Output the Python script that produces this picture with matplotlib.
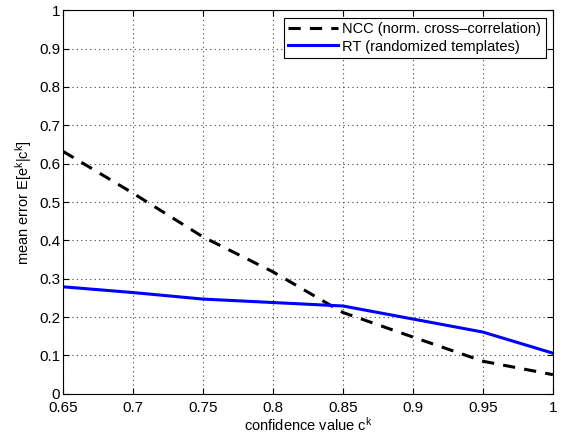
import matplotlib.pyplot as plt

plt.rcParams['font.family'] = ['Liberation Sans', 'DejaVu Sans']
plt.rcParams['mathtext.default'] = 'regular'

# data
conf = [0.65, 0.70, 0.75, 0.80, 0.85, 0.90, 0.95, 1.00]
ncc = [0.632, 0.523, 0.409, 0.318, 0.212, 0.148, 0.085, 0.050]
rt = [0.279, 0.264, 0.247, 0.238, 0.229, 0.195, 0.161, 0.106]

xticks = [0.65, 0.7, 0.75, 0.8, 0.85, 0.9, 0.95, 1]
xticklabels = ['0.65', '0.7', '0.75', '0.8', '0.85', '0.9', '0.95', '1']
yticks = [0, 0.1, 0.2, 0.3, 0.4, 0.5, 0.6, 0.7, 0.8, 0.9, 1]
yticklabels = ['0', '0.1', '0.2', '0.3', '0.4', '0.5', '0.6', '0.7', '0.8', '0.9', '1']

fig = plt.figure(figsize=(5.63, 4.44), dpi=100)
ax = fig.add_axes([0.112, 0.113, 0.870, 0.864])

ax.plot(conf, ncc, color='k', linestyle='--', linewidth=2.2, dashes=(4, 3),
        label='NCC (norm. cross\u2013correlation)')
ax.plot(conf, rt, color='#0000ff', linewidth=2.2, label='RT (randomized templates)')

ax.set_xlim(0.65, 1)
ax.set_ylim(0, 1)
ax.set_xticks(xticks)
ax.set_xticklabels(xticklabels)
ax.set_yticks(yticks)
ax.set_yticklabels(yticklabels)
ax.tick_params(direction='in', top=True, right=True, labelsize=11, length=4)
ax.tick_params(axis='x', pad=5)
ax.tick_params(axis='y', pad=2)
ax.grid(True, color='#444444', linestyle=(0, (1, 3)), linewidth=0.8)

ax.set_xlabel('confidence value c$^k$', fontsize=10.5, labelpad=1)
ax.set_ylabel('mean error E[e$^k$|c$^k$]', fontsize=10.5, labelpad=4)

leg = ax.legend(loc='upper right', fontsize=10.5, fancybox=False, framealpha=1,
                edgecolor='k', borderaxespad=0.5, handlelength=3.4,
                borderpad=0.3, labelspacing=0.25, handletextpad=0.3)
leg.get_frame().set_linewidth(0.8)

fig.savefig('out.png', dpi=100)
